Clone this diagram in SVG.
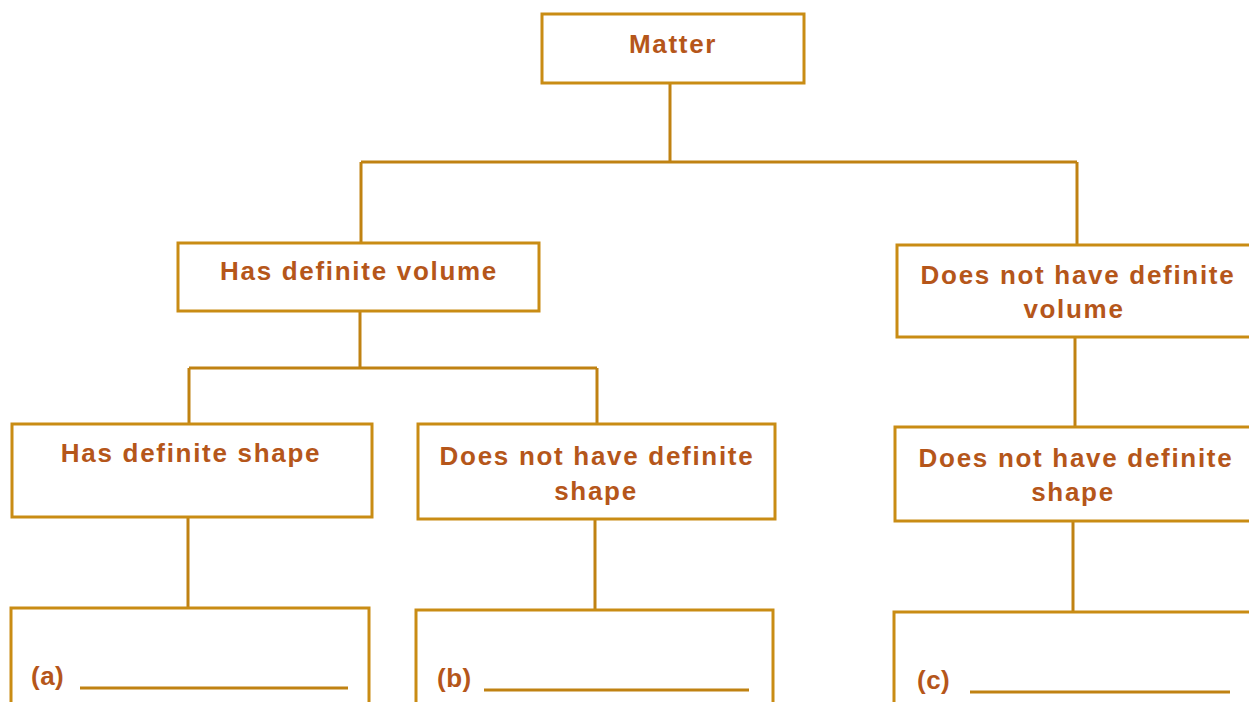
<svg xmlns="http://www.w3.org/2000/svg" width="1249" height="702" viewBox="0 0 1249 702">
<style>
.box{fill:#fff;stroke:#c98c14;stroke-width:3}
.ln{stroke:#c08212;stroke-width:3;fill:none}
.t{font-family:"Liberation Sans",Arial,sans-serif;font-weight:bold;font-size:26px;letter-spacing:1.7px;fill:#b5561a;text-anchor:middle}
.l{font-family:"Liberation Sans",Arial,sans-serif;font-weight:bold;font-size:26px;letter-spacing:0.5px;fill:#b5561a}
</style>
<rect width="1249" height="702" fill="#fff"/>
<g id="connectors">
<path class="ln" d="M670 83V162M361 162H1077M361 162V243M1077 162V245"/>
<path class="ln" d="M360 311V368M189 368H597M189 368V424M597 368V424"/>
<path class="ln" d="M1075 337V427"/>
<path class="ln" d="M188 517V608M595 519V610M1073 521V612"/>
</g>
<g id="matter"><rect class="box" x="542" y="14" width="262" height="69"/><text class="t" x="673" y="53">Matter</text></g>
<g id="vol"><rect class="box" x="178" y="243" width="361" height="68"/><text class="t" x="359" y="280">Has definite volume</text></g>
<g id="novol"><rect class="box" x="897" y="245" width="354" height="92"/><text class="t" x="1078" y="284">Does not have definite</text><text class="t" x="1074" y="318">volume</text></g>
<g id="shape"><rect class="box" x="12" y="424" width="360" height="93"/><text class="t" x="191" y="462">Has definite shape</text></g>
<g id="noshape1"><rect class="box" x="418" y="424" width="357" height="95"/><text class="t" x="597" y="465">Does not have definite</text><text class="t" x="596" y="500">shape</text></g>
<g id="noshape2"><rect class="box" x="895" y="427" width="356" height="94"/><text class="t" x="1076" y="467">Does not have definite</text><text class="t" x="1073" y="501">shape</text></g>
<g id="a"><rect class="box" x="11" y="608" width="358" height="100"/><text class="l" x="31" y="685">(a)</text><path class="ln" d="M80 688H348"/></g>
<g id="b"><rect class="box" x="416" y="610" width="357" height="100"/><text class="l" x="437" y="687">(b)</text><path class="ln" d="M484 690H749"/></g>
<g id="c"><rect class="box" x="894" y="612" width="357" height="100"/><text class="l" x="917" y="689">(c)</text><path class="ln" d="M970 692H1230"/></g>
</svg>
